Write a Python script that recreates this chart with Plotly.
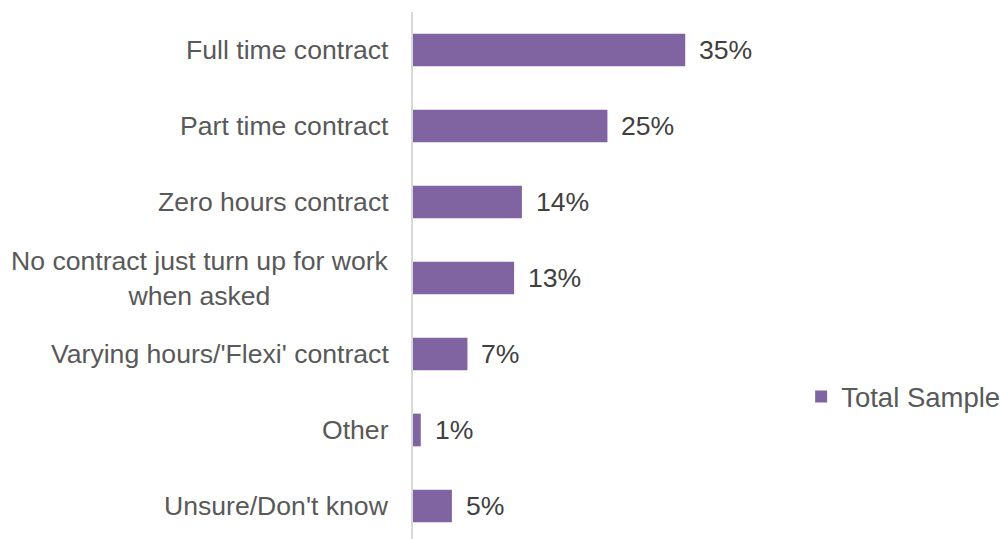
import plotly.graph_objects as go

# Survey responses: type of employment contract
categories = [
    "Full time contract",
    "Part time contract",
    "Zero hours contract",
    "No contract just turn up for work<br>when asked",
    "Varying hours/'Flexi' contract",
    "Other",
    "Unsure/Don't know",
]
values = [35, 25, 14, 13, 7, 1, 5]
value_labels = [f"{v}%" for v in values]
series_name = "Total Sample"

BAR_COLOR = "#8064A2"
LABEL_COLOR = "#595959"
VALUE_COLOR = "#404040"
FONT = "Liberation Sans, Arial, sans-serif"
FONT_SIZE = 26.6

fig = go.Figure()
fig.add_trace(
    go.Bar(
        x=values,
        y=categories,
        orientation="h",
        name=series_name,
        marker=dict(color=BAR_COLOR, line=dict(width=0)),
        width=0.43,
        showlegend=True,
    )
)

annotations = []
# category labels, centred lines, right-aligned block
for cat in categories:
    annotations.append(
        dict(
            x=0, xref="paper", y=cat, yref="y",
            text=cat, showarrow=False,
            xanchor="right", yanchor="middle", align="center",
            xshift=-22,
            font=dict(family=FONT, size=FONT_SIZE, color=LABEL_COLOR),
        )
    )
# value labels after each bar
for cat, v, lab in zip(categories, values, value_labels):
    annotations.append(
        dict(
            x=v, xref="x", y=cat, yref="y",
            text=lab, showarrow=False,
            xanchor="left", yanchor="middle",
            xshift=12,
            font=dict(family=FONT, size=FONT_SIZE, color=VALUE_COLOR),
        )
    )

n = len(categories)
fig.update_layout(
    width=1000,
    height=539,
    margin=dict(l=413, r=237, t=12, b=0, autoexpand=False),
    paper_bgcolor="white",
    plot_bgcolor="white",
    font=dict(family=FONT, size=FONT_SIZE, color=LABEL_COLOR),
    showlegend=True,
    legend=dict(
        x=1.109, xanchor="left",
        y=0.27, yanchor="middle",
        font=dict(family=FONT, size=27.5, color=LABEL_COLOR),
        bgcolor="rgba(0,0,0,0)",
    ),
    xaxis=dict(
        range=[0, 45],
        showgrid=False, zeroline=False, showline=False,
        showticklabels=False, ticks="",
    ),
    yaxis=dict(
        categoryorder="array",
        categoryarray=categories,
        range=[n - 0.5 - (n * 76 - 527) / 76, -0.5],
        showgrid=False, zeroline=False,
        showline=True, linecolor="#D9D9D9", linewidth=2,
        showticklabels=False, ticks="",
    ),
    bargap=0.57,
    annotations=annotations,
)

fig.write_html("out.html")
